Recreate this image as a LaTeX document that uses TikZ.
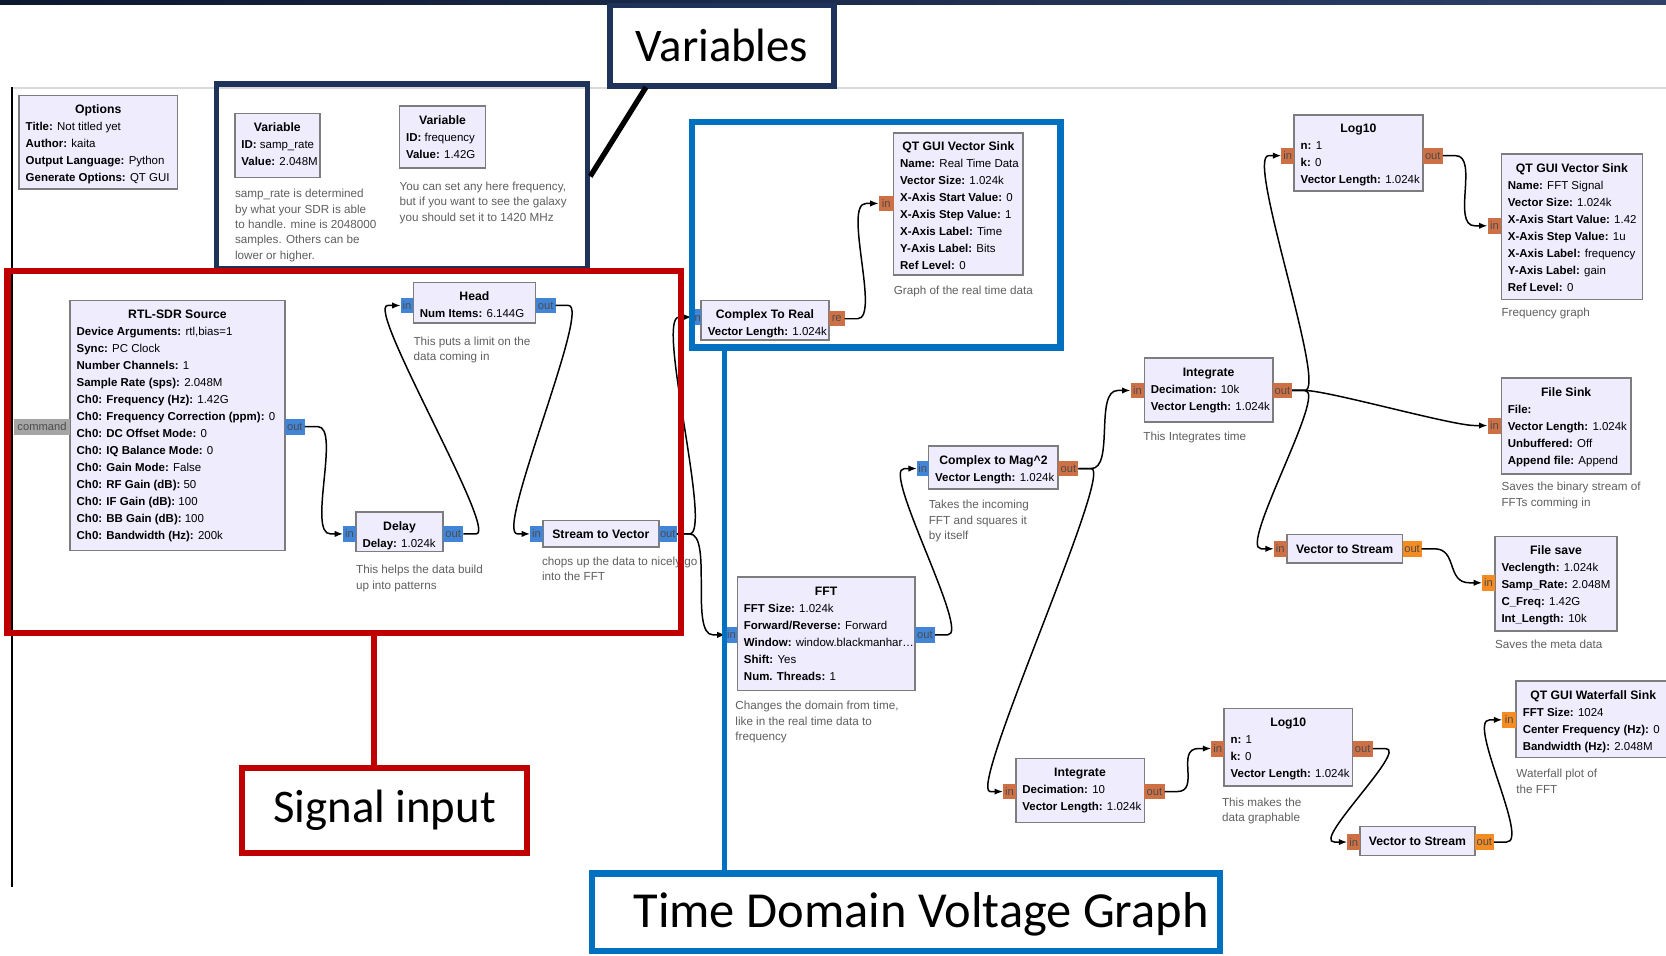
\documentclass[tikz,border=0pt]{standalone}
\usepackage{fontspec}
\setmainfont{Liberation Sans}
\newfontfamily\calib{Carlito}
\usetikzlibrary{arrows.meta,calc}

\definecolor{blkfill}{RGB}{238,236,253}
\definecolor{blkdraw}{RGB}{125,125,125}
\definecolor{pblue}{RGB}{66,133,214}
\definecolor{porange}{RGB}{206,112,70}
\definecolor{pbright}{RGB}{245,140,35}
\definecolor{pgray}{RGB}{165,165,165}
\definecolor{cmt}{RGB}{95,95,95}
\definecolor{annred}{RGB}{192,0,0}
\definecolor{annblue}{RGB}{0,112,192}
\definecolor{annnavy}{RGB}{31,50,90}
\definecolor{barL}{RGB}{12,24,48}
\definecolor{barR}{RGB}{45,65,105}

\tikzset{
  grbox/.style={draw=blkdraw, fill=blkfill, line width=1.5pt, inner sep=0pt, outer sep=0pt},
  grtitle/.style={font=\fontsize{11.5}{14}\selectfont\bfseries, inner sep=0pt},
  grtxt/.style={font=\fontsize{10.8}{14}\selectfont, inner sep=0pt},
  cmttxt/.style={font=\fontsize{11}{14}\selectfont, text=cmt, inner sep=0pt},
  portbox/.style={inner sep=0pt, outer sep=0pt, font=\fontsize{10.5}{12}\selectfont, text=black!70},
  conn/.style={draw=black, line width=1.4pt, -{Latex[length=8pt,width=6pt]}},
  bigtxt/.style={font=\calib\fontsize{44}{50}\selectfont, inner sep=0pt},
}

\newcommand\grb[7]{%
  \node[grbox, minimum width={#4-#2}, minimum height={#5-#3}] (#1) at ({(#2+#4)/2},{(#3+#5)/2}) {};
  \node[grtitle, anchor=base] (#1-t) at ({(#2+#4)/2},{#3+17}) {#6};
  \foreach \bl [count=\bi from 0] in {#7} {\node[grtxt, anchor=base west] (#1-\bi) at ({#2+6},{#3+33+16*\bi}) {\bl};}%
}
\newcommand\grs[6]{%
  \node[grbox, minimum width={#4-#2}, minimum height={#5-#3}] (#1) at ({(#2+#4)/2},{(#3+#5)/2}) {};
  \node[grtitle, anchor=base] (#1-t) at ({(#2+#4)/2},{(#3+#5)/2+4}) {#6};
}
\newcommand\port[7]{%
  \node[portbox, fill=#6, minimum width={#4-#2}, minimum height={#5-#3}] (#1) at ({(#2+#4)/2},{(#3+#5)/2}) {#7};
}
\newcommand\cmt[4]{%
  \foreach \cl [count=\ci from 0] in {#4} {\node[cmttxt, anchor=base west] (#1-\ci) at (#2,{#3+14.5*\ci}) {\cl};}%
}
\newcommand\wire[2]{\draw[conn] (#1.east) -- ++(12,0) .. controls +(22,0) and +(-22,0) .. ([xshift=-12pt]#2.west) -- (#2.west);}

\begin{document}
\begin{tikzpicture}[x=1pt,y=-1pt]
\useasboundingbox (0,0) rectangle (1568,899);
\fill[white] (0,0) rectangle (1568,899);
\shade[left color=barL, right color=barR] (0,0) rectangle (1568,4);
\draw[black!15, line width=2pt] (10,83) -- (1568,83);
\draw[black, line width=2pt] (11,82) -- (11,835);

% blocks
\grb{opts}{18}{90}{167}{178}{Options}{{\textbf{Title:} Not titled yet},{\textbf{Author:} kaita},{\textbf{Output Language:} Python},{\textbf{Generate Options:} QT GUI}}
\grb{var1}{221}{107}{301}{167}{Variable}{{\textbf{ID:} samp\_rate},{\textbf{Value:} 2.048M}}
\grb{var2}{376}{100}{457}{158}{Variable}{{\textbf{ID:} frequency},{\textbf{Value:} 1.42G}}
\grb{rtl}{66}{283}{268}{518}{RTL-SDR Source}{{\textbf{Device Arguments:} rtl,bias=1},{\textbf{Sync:} PC Clock},{\textbf{Number Channels:} 1},{\textbf{Sample Rate (sps):} 2.048M},{\textbf{Ch0: Frequency (Hz):} 1.42G},{\textbf{Ch0: Frequency Correction (ppm):} 0},{\textbf{Ch0: DC Offset Mode:} 0},{\textbf{Ch0: IQ Balance Mode:} 0},{\textbf{Ch0: Gain Mode:} False},{\textbf{Ch0: RF Gain (dB):} 50},{\textbf{Ch0: IF Gain (dB):} 100},{\textbf{Ch0: BB Gain (dB):} 100},{\textbf{Ch0: Bandwidth (Hz):} 200k}}
\grb{delay}{335}{482}{417}{519}{Delay}{{\textbf{Delay:} 1.024k}}
\grb{head}{389}{266}{504}{304}{Head}{{\textbf{Num Items:} 6.144G}}
\grs{stv}{511}{490}{620}{515}{Stream to Vector}
\grb{ctr}{660}{283}{780}{320}{Complex To Real}{{\textbf{Vector Length:} 1.024k}}
\grb{vs1}{841}{125}{963}{259}{QT GUI Vector Sink}{{\textbf{Name:} Real Time Data},{\textbf{Vector Size:} 1.024k},{\textbf{X-Axis Start Value:} 0},{\textbf{X-Axis Step Value:} 1},{\textbf{X-Axis Label:} Time},{\textbf{Y-Axis Label:} Bits},{\textbf{Ref Level:} 0}}
\grb{fft}{694}{543}{861}{650}{FFT}{{\textbf{FFT Size:} 1.024k},{\textbf{Forward/Reverse:} Forward},{\textbf{Window:} window.blackmanhar\ldots},{\textbf{Shift:} Yes},{\textbf{Num. Threads:} 1}}
\grb{cmag}{874}{420}{996}{460}{Complex to Mag\textasciicircum 2}{{\textbf{Vector Length:} 1.024k}}
\grb{int1}{1077}{337}{1198}{397}{Integrate}{{\textbf{Decimation:} 10k},{\textbf{Vector Length:} 1.024k}}
\grb{int2}{956}{714}{1077}{774}{Integrate}{{\textbf{Decimation:} 10},{\textbf{Vector Length:} 1.024k}}
\grb{log2}{1152}{667}{1273}{740}{Log10}{{\textbf{n:} 1},{\textbf{k:} 0},{\textbf{Vector Length:} 1.024k}}
\grs{vts2}{1280}{778}{1388}{805}{Vector to Stream}
\grb{wf}{1427}{641}{1572}{713}{QT GUI Waterfall Sink}{{\textbf{FFT Size:} 1024},{\textbf{Center Frequency (Hz):} 0},{\textbf{Bandwidth (Hz):} 2.048M}}
\grb{log1}{1218}{108}{1339}{180}{Log10}{{\textbf{n:} 1},{\textbf{k:} 0},{\textbf{Vector Length:} 1.024k}}
\grb{vs2}{1413}{145}{1546}{282}{QT GUI Vector Sink}{{\textbf{Name:} FFT Signal},{\textbf{Vector Size:} 1.024k},{\textbf{X-Axis Start Value:} 1.42},{\textbf{X-Axis Step Value:} 1u},{\textbf{X-Axis Label:} frequency},{\textbf{Y-Axis Label:} gain},{\textbf{Ref Level:} 0}}
\grb{fsink}{1413}{356}{1535}{446}{File Sink}{{\textbf{File:}},{\textbf{Vector Length:} 1.024k},{\textbf{Unbuffered:} Off},{\textbf{Append file:} Append}}
\grs{vts1}{1211}{503}{1320}{530}{Vector to Stream}
\grb{fsave}{1407}{505}{1522}{594}{File save}{{\textbf{Veclength:} 1.024k},{\textbf{Samp\_Rate:} 2.048M},{\textbf{C\_Freq:} 1.42G},{\textbf{Int\_Length:} 10k}}

% ports
\port{rtl-cmd}{13}{394}{66}{409}{pgray}{command}
\port{rtl-o}{268}{394}{287}{409}{pblue}{out}
\port{delay-i}{323}{495}{335}{510}{pblue}{in}
\port{delay-o}{417}{495}{436}{510}{pblue}{out}
\port{head-i}{377}{280}{389}{295}{pblue}{in}
\port{head-o}{504}{280}{523}{295}{pblue}{out}
\port{stv-i}{499}{495}{511}{510}{pblue}{in}
\port{stv-o}{620}{495}{637}{510}{pblue}{out}
\port{ctr-i}{651}{291}{660}{306}{pblue}{in}
\port{ctr-o}{780}{293}{795}{307}{porange}{re}
\port{vs1-i}{827}{184}{841}{199}{porange}{in}
\port{fft-i}{683}{590}{694}{605}{pblue}{in}
\port{fft-o}{861}{590}{880}{605}{pblue}{out}
\port{cmag-i}{863}{434}{874}{448}{pblue}{in}
\port{cmag-o}{996}{434}{1015}{448}{porange}{out}
\port{int1-i}{1064}{360}{1077}{375}{porange}{in}
\port{int1-o}{1198}{360}{1216}{375}{porange}{out}
\port{int2-i}{944}{738}{956}{752}{porange}{in}
\port{int2-o}{1077}{738}{1096}{752}{porange}{out}
\port{log2-i}{1140}{697}{1152}{712}{porange}{in}
\port{log2-o}{1273}{697}{1292}{712}{porange}{out}
\port{vts2-i}{1268}{785}{1280}{800}{porange}{in}
\port{vts2-o}{1388}{785}{1406}{800}{pbright}{out}
\port{wf-i}{1414}{670}{1427}{685}{pbright}{in}
\port{log1-i}{1206}{139}{1218}{154}{porange}{in}
\port{log1-o}{1339}{139}{1358}{154}{porange}{out}
\port{vs2-i}{1400}{205}{1413}{220}{porange}{in}
\port{fsink-i}{1400}{393}{1413}{408}{porange}{in}
\port{vts1-i}{1199}{509}{1211}{524}{porange}{in}
\port{vts1-o}{1320}{509}{1338}{524}{pbright}{out}
\port{fsave-i}{1395}{541}{1407}{556}{pbright}{in}

% comments
\cmt{var1-c}{221}{186}{{samp\_rate is determined},{by what your SDR is able},{to handle. mine is 2048000},{samples. Others can be},{lower or higher.}}
\cmt{var2-c}{376}{179}{{You can set any here frequency,},{but if you want to see the galaxy},{you should set it to 1420 MHz}}
\cmt{head-c}{389}{325}{{This puts a limit on the},{data coming in}}
\cmt{delay-c}{335}{540}{{This helps the data build},{up into patterns}}
\cmt{stv-c}{510}{532}{{chops up the data to nicely go},{into the FFT}}
\cmt{vs1-c}{841}{277}{{Graph of the real time data}}
\cmt{fft-c}{692}{668}{{Changes the domain from time,},{like in the real time data to},{frequency}}
\cmt{cmag-c}{874}{479}{{Takes the incoming},{FFT and squares it},{by itself}}
\cmt{int1-c}{1076}{415}{{This Integrates time}}
\cmt{log2-c}{1150}{759}{{This makes the},{data graphable}}
\cmt{wf-c}{1427}{732}{{Waterfall plot of},{the FFT}}
\cmt{vs2-c}{1413}{298}{{Frequency graph}}
\cmt{fsink-c}{1413}{462}{{Saves the binary stream of},{FFTs comming in}}
\cmt{fsave-c}{1407}{610}{{Saves the meta data}}

% connections
\wire{rtl-o}{delay-i}
\wire{delay-o}{head-i}
\wire{head-o}{stv-i}
\wire{stv-o}{ctr-i}
\wire{stv-o}{fft-i}
\wire{ctr-o}{vs1-i}
\wire{fft-o}{cmag-i}
\wire{cmag-o}{int1-i}
\wire{cmag-o}{int2-i}
\wire{int1-o}{log1-i}
\wire{int1-o}{fsink-i}
\wire{int1-o}{vts1-i}
\wire{log1-o}{vs2-i}
\wire{vts1-o}{fsave-i}
\wire{int2-o}{log2-i}
\wire{log2-o}{vts2-i}
\wire{vts2-o}{wf-i}

% annotations
\node[draw=annnavy, line width=5pt, minimum width=349, minimum height=174, inner sep=0pt] (varsbox) at (378.5,166) {};
\node[draw=annnavy, line width=5pt, fill=white, minimum width=211, minimum height=76, bigtxt] (varlabel) at (679.5,43) {Variables};
\coordinate (slashend) at (608,82);
\draw[black, line width=5pt] (varsbox.east) -- (slashend);

\node[draw=annred, line width=6pt, minimum width=634, minimum height=341, inner sep=0pt] (sigbox) at (324,425.5) {};
\node[draw=annred, line width=6pt, fill=white, minimum width=268, minimum height=80, bigtxt] (siglabel) at (362,763) {Signal input};
\coordinate (sigA) at (352,596);
\coordinate (sigB) at (352,720);
\draw[annred, line width=5pt] (sigA) -- (sigB);

\node[draw=annblue, line width=6pt, minimum width=347, minimum height=212, inner sep=0pt] (tdbox) at (824.5,221) {};
\node[draw=annblue, line width=6pt, fill=white, minimum width=591, minimum height=73, inner sep=0pt] (tdlabel) at (852.5,858.5) {};
\node[bigtxt, font=\calib\fontsize{47.5}{52}\selectfont] (tdtext) at (867,860.5) {Time Domain Voltage Graph};
\coordinate (tdA) at (682,327);
\coordinate (tdB) at (682,822);
\draw[annblue, line width=5pt] (tdA) -- (tdB);
\end{tikzpicture}
\end{document}
